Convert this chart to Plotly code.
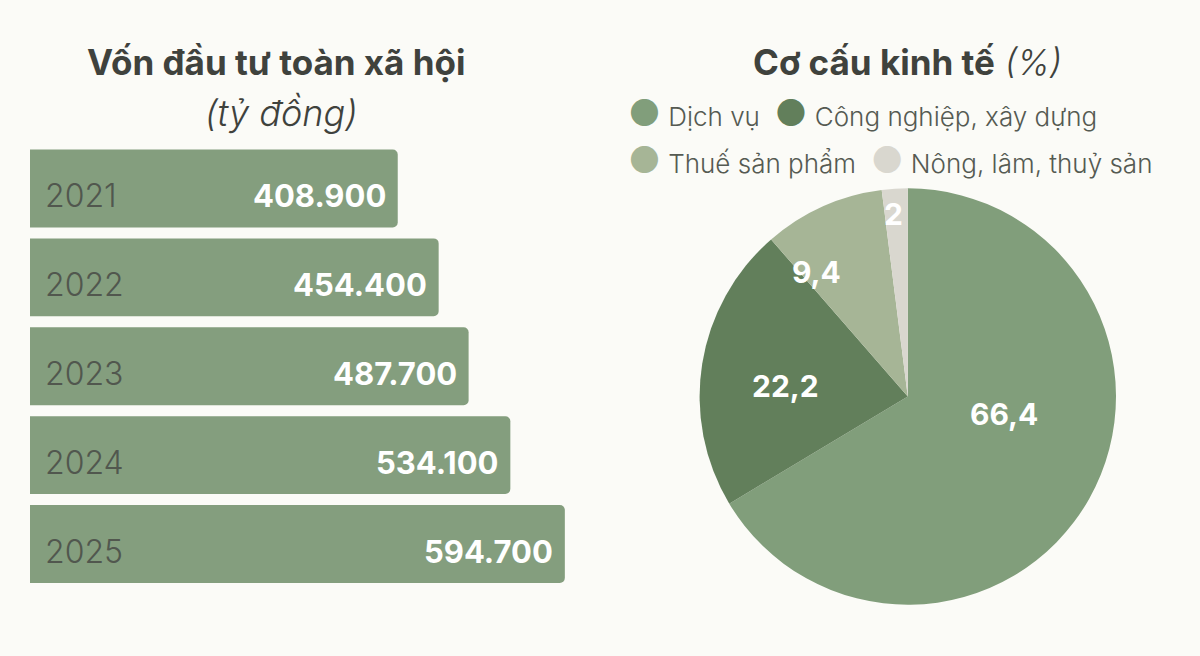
import math
import plotly.graph_objects as go

# Vốn đầu tư toàn xã hội (tỷ đồng)
years = ["2021", "2022", "2023", "2024", "2025"]
investment = [408900, 454400, 487700, 534100, 594700]

# Cơ cấu kinh tế (%)
sectors = ["Dịch vụ", "Công nghiệp, xây dựng", "Thuế sản phẩm", "Nông, lâm, thuỷ sản"]
shares = [66.4, 22.2, 9.4, 2]
share_labels = ["66,4", "22,2", "9,4", "2"]

BG = "#fbfbf7"
BAR = "#849e7e"
SECTOR_COLORS = ["#819e7b", "#627f5b", "#a6b596", "#d9d7cf"]
DARK = "#3f423d"
FONT = "Inter"
W, H = 1200, 656

# pie placement (paper fractions) and label tweaks
PIE_X = [0.583, 0.930]
PIE_Y = [0.078, 0.713]
label_r = [0.47, 0.59, 0.74, 0.88]      # distance from centre, fraction of radius
label_dt = [-19, -4, -12, -1]          # angle nudge in degrees


def vn_number(v):
    return f"{v:,}".replace(",", ".")


fig = go.Figure()

fig.add_trace(go.Bar(
    x=investment, y=years, orientation="h",
    marker=dict(color=BAR, line=dict(width=0)),
    hoverinfo="skip", showlegend=False,
))

fig.add_trace(go.Pie(
    labels=sectors, values=shares,
    textinfo="none",
    marker=dict(colors=SECTOR_COLORS, line=dict(width=0)),
    sort=False, direction="clockwise", rotation=0,
    domain=dict(x=PIE_X, y=PIE_Y),
    hoverinfo="skip", showlegend=False,
))

annotations = []
# year labels inside the bars (left) and values (right);
# on a category axis annotations take the category index
for i, (yr, v) in enumerate(zip(years, investment)):
    annotations.append(dict(
        x=0, y=i, xref="x", yref="y", text=yr, showarrow=False,
        xanchor="left", xshift=13, yshift=-7,
        font=dict(family=FONT, size=32, color="#51574e", weight=300),
    ))
    annotations.append(dict(
        x=v, y=i, xref="x", yref="y", text=vn_number(v), showarrow=False,
        xanchor="right", xshift=-10, yshift=-7,
        font=dict(family=FONT, size=31, color="white", weight="bold"),
    ))

# pie value labels, placed from the slice angles
cx = (PIE_X[0] + PIE_X[1]) / 2 * W
cy = (1 - (PIE_Y[0] + PIE_Y[1]) / 2) * H
radius = min((PIE_X[1] - PIE_X[0]) * W, (PIE_Y[1] - PIE_Y[0]) * H) / 2
total = sum(shares)
start = 0.0
for s, lab, rf, dt in zip(shares, share_labels, label_r, label_dt):
    mid = math.radians((start + s / 2) / total * 360 + dt)
    start += s
    annotations.append(dict(
        x=cx + rf * radius * math.sin(mid), y=cy - rf * radius * math.cos(mid),
        xref="paper", yref="paper", text=f"<b>{lab}</b>", showarrow=False,
        xanchor="center", yanchor="middle",
        font=dict(family=FONT, size=30, color="white"),
    ))

# titles
annotations.append(dict(
    x=276, y=62, xref="paper", yref="paper", text="<b>Vốn đầu tư toàn xã hội</b>",
    showarrow=False, xanchor="center", yanchor="middle",
    font=dict(family=FONT, size=35, color=DARK),
))
annotations.append(dict(
    x=281, y=113, xref="paper", yref="paper", text="<i>(tỷ đồng)</i>",
    showarrow=False, xanchor="center", yanchor="middle",
    font=dict(family=FONT, size=36, color=DARK, weight=300),
))
annotations.append(dict(
    x=907, y=62, xref="paper", yref="paper",
    text="<b>Cơ cấu kinh tế</b> <i style='font-weight:300'>(%)</i>",
    showarrow=False, xanchor="center", yanchor="middle",
    font=dict(family=FONT, size=35, color=DARK),
))


# legend rows
def legend_item(i):
    return (f"<span style='color:{SECTOR_COLORS[i]};font-size:36px'>●</span>"
            f" {sectors[i]}")


annotations.append(dict(
    x=626, y=113, xref="paper", yref="paper",
    text=legend_item(0) + "  " + legend_item(1),
    showarrow=False, xanchor="left", yanchor="middle",
    font=dict(family=FONT, size=26, color="#555a52", weight=300),
))
annotations.append(dict(
    x=626, y=160, xref="paper", yref="paper",
    text=legend_item(2) + "  " + legend_item(3),
    showarrow=False, xanchor="left", yanchor="middle",
    font=dict(family=FONT, size=26, color="#555a52", weight=300),
))

# convert pixel positions of paper annotations to fractions
for a in annotations:
    if a["xref"] == "paper":
        a["x"] = a["x"] / W
        a["y"] = 1 - a["y"] / H

fig.update_layout(
    width=W, height=H,
    margin=dict(l=0, r=0, t=0, b=0),
    paper_bgcolor=BG, plot_bgcolor=BG,
    bargap=0.124, barcornerradius=5,
    xaxis=dict(domain=[0.025, 0.5], range=[0, 633800], visible=False, fixedrange=True),
    yaxis=dict(domain=[0.1029, 0.7805], type="category", range=[4.5, -0.5],
               visible=False, fixedrange=True),
    annotations=annotations,
    font=dict(family=FONT),
)

fig.write_html("out.html", config={"displayModeBar": False},
               post_script="document.body.style.margin='0';")
